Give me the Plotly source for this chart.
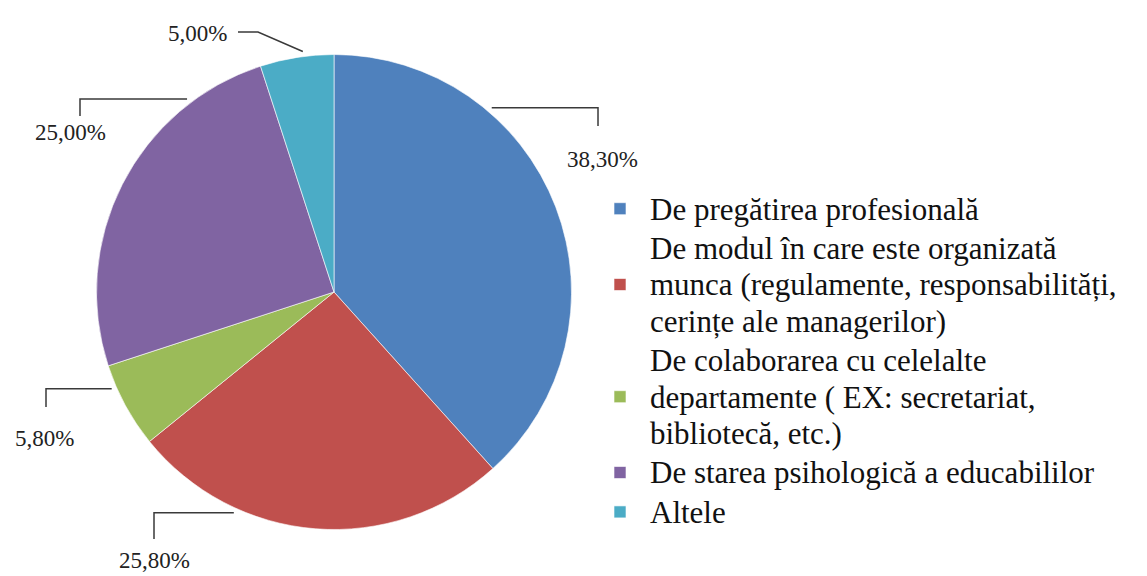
import math
import plotly.graph_objects as go

# ---- data ----
categories = [
    "De pregătirea profesională",
    "De modul în care este organizată<br>munca (regulamente, responsabilități,<br>cerințe ale managerilor)",
    "De colaborarea cu celelalte<br>departamente ( EX: secretariat,<br>bibliotecă, etc.)",
    "De starea psihologică a educabililor",
    "Altele",
]
values = [38.3, 25.8, 5.8, 25.0, 5.0]

# ---- style ----
colors = ["#4F81BD", "#C0504D", "#9BBB59", "#8064A2", "#4BACC6"]
W, H = 1147, 576
CX, CY, R = 326.0, 284.0, 237.5
FONT = "Liberation Serif"
LEGEND_GLYPH = 31   # glyph size in legend; base size (28) sets the row spacing

# leader-line styling per slice: position along the slice, then bend points (px)
label_style = [
    dict(frac=0.294, kind="elbow", knee_x=590, end_y=118, tx=594, ty=151, anchor="center"),
    dict(frac=0.714, kind="elbow", knee_x=146, end_y=531, tx=146, ty=552, anchor="center"),
    dict(frac=0.74, kind="elbow", knee_x=38, end_y=399, tx=36, ty=430, anchor="center"),
    dict(frac=0.786, kind="elbow", knee_x=72, end_y=108, tx=62, ty=125, anchor="center"),
    dict(frac=0.59, kind="diag", pts=[(250, 24), (230, 24)], tx=221, ty=25, anchor="right"),
]


def px(x):
    return x / W


def py(y):
    return 1 - y / H


legend_labels = [
    "<br>".join(f"<span style='font-size:{LEGEND_GLYPH}px'>{ln}</span>" for ln in c.split("<br>"))
    for c in categories
]

fig = go.Figure(
    go.Pie(
        labels=legend_labels,
        values=values,
        sort=False,
        direction="clockwise",
        rotation=0,
        marker=dict(colors=colors, line=dict(color="rgba(255,255,255,0.6)", width=1)),
        textinfo="none",
        hoverinfo="label+percent",
        domain=dict(x=[px(CX - R), px(CX + R)], y=[py(CY + R), py(CY - R)]),
    )
)

total = sum(values)
start = 0.0
shapes = []
annotations = []
for v, st in zip(values, label_style):
    span = v / total * 360.0
    theta = math.radians(start + st["frac"] * span)
    start += span
    r_edge = R + 5
    ex = CX + r_edge * math.sin(theta)
    ey = CY - r_edge * math.cos(theta)
    if st["kind"] == "elbow":
        pts = [(ex, ey), (st["knee_x"], ey), (st["knee_x"], st["end_y"])]
    else:
        pts = [(ex, ey)] + st["pts"]
    path = "M " + " L ".join(f"{px(x):.5f},{py(y):.5f}" for x, y in pts)
    shapes.append(dict(type="path", path=path, xref="paper", yref="paper",
                       line=dict(color="#3a3a3a", width=1.5)))
    annotations.append(dict(
        x=px(st["tx"]), y=py(st["ty"]), xref="paper", yref="paper",
        text=f"{v:.2f}%".replace(".", ","), showarrow=False,
        xanchor=st["anchor"], yanchor="middle",
        font=dict(family=FONT, size=23, color="#222222"),
    ))

fig.update_layout(
    width=W, height=H,
    margin=dict(l=0, r=0, t=0, b=0),
    paper_bgcolor="white", plot_bgcolor="white",
    shapes=shapes, annotations=annotations,
    showlegend=True,
    legend=dict(
        x=px(582), y=py(176), xanchor="left", yanchor="top",
        font=dict(family=FONT, size=28, color="#111111"),
        itemwidth=50, tracegroupgap=0,
        bgcolor="rgba(0,0,0,0)",
    ),
)

fig.write_html("out.html")
